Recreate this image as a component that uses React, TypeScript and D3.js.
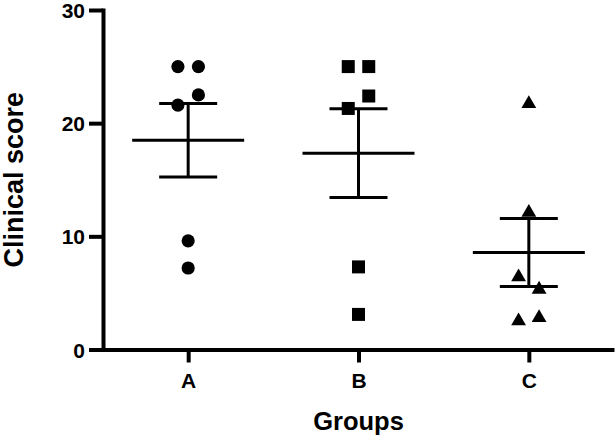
import React, { useEffect, useRef } from "react";
import * as d3 from "d3";

const groups = ["A", "B", "C"];
const valuesA = [25, 25, 21.6, 22.5, 9.6, 7.2];
const valuesB = [25, 25, 21.3, 22.4, 7.3, 3.1];
const valuesC = [21.8, 12.2, 6.5, 5.4, 2.6, 2.9];
const yTicks = [0, 10, 20, 30];
const yTitle = "Clinical score";
const xTitle = "Groups";
const seriesValues = [valuesA, valuesB, valuesC];
const markerShapes = ["circle", "square", "triangle"];

const W = 615;
const H = 439;
const FONT = "'Liberation Sans', Arial, Helvetica, sans-serif";

function stats(v: number[]) {
  const mean = d3.mean(v) as number;
  const sd = d3.deviation(v) as number;
  return { mean, sem: sd / Math.sqrt(v.length) };
}

function swarmOffsets(v: number[], y: (n: number) => number, thresh: number, step: number) {
  const idx = v.map((_, i) => i).sort((a, b) => v[b] - v[a]);
  const clusters: number[][] = [];
  idx.forEach((i) => {
    const last = clusters[clusters.length - 1];
    if (last && Math.abs(y(v[last[last.length - 1]]) - y(v[i])) < thresh) last.push(i);
    else clusters.push([i]);
  });
  const off = new Array(v.length).fill(0);
  clusters.forEach((c) => {
    const ordered = [...c].sort((a, b) => a - b);
    ordered.forEach((i, k) => {
      off[i] = (k - (ordered.length - 1) / 2) * step;
    });
  });
  return off;
}

export default function App() {
  const xAxisRef = useRef<SVGGElement>(null);
  const yAxisRef = useRef<SVGGElement>(null);

  const left = 103;
  const right = 614;
  const top = 10;
  const bottom = 349.5;

  const x = d3.scalePoint<string>().domain(groups).range([left, right]).padding(0.5);
  const y = d3.scaleLinear().domain([0, 30]).range([bottom, top]);

  useEffect(() => {
    if (yAxisRef.current) {
      const g = d3.select(yAxisRef.current);
      g.call(d3.axisLeft(y).tickValues(yTicks).tickSize(14).tickSizeOuter(0).tickPadding(4) as any);
      g.select(".domain").attr("stroke", "#000").attr("stroke-width", 4).attr("stroke-linecap", "square");
      g.selectAll(".tick line").attr("stroke", "#000").attr("stroke-width", 4);
      g.selectAll(".tick text")
        .attr("fill", "#000")
        .attr("dy", "0.36em")
        .style("font-family", FONT)
        .style("font-weight", "bold")
        .style("font-size", "21px");
    }
    if (xAxisRef.current) {
      const g = d3.select(xAxisRef.current);
      g.call(d3.axisBottom(x).tickSize(13).tickSizeOuter(0).tickPadding(11) as any);
      g.select(".domain").attr("stroke", "#000").attr("stroke-width", 4);
      g.selectAll(".tick line").attr("stroke", "#000").attr("stroke-width", 4);
      g.selectAll(".tick text")
        .attr("fill", "#000")
        .style("font-family", FONT)
        .style("font-weight", "bold")
        .style("font-size", "21px");
    }
  });

  const sym = {
    circle: d3.symbol().type(d3.symbolCircle).size(Math.PI * 6.6 * 6.6),
    square: d3.symbol().type(d3.symbolSquare).size(13 * 13),
    triangle: d3.symbol().type(d3.symbolTriangle).size(95),
  } as Record<string, any>;

  return (
    <svg width={W} height={H} style={{ position: "absolute", left: 0, top: 0, background: "#fff" }}>
      <rect width={W} height={H} fill="#fff" />
      <g ref={yAxisRef} transform={`translate(${left},0)`} />
      <g ref={xAxisRef} transform={`translate(0,${bottom})`} />
      {groups.map((gname, gi) => {
        const v = seriesValues[gi];
        const cx = x(gname) as number;
        const { mean, sem } = stats(v);
        const offs = swarmOffsets(v, y, 14, 20.5);
        const shape = markerShapes[gi];
        return (
          <g key={gname}>
            {v.map((val, i) => (
              <path
                key={i}
                d={sym[shape]()}
                transform={`translate(${cx + offs[i]},${y(val) + (shape === "triangle" ? 1 : 0)})`}
                fill="#000"
              />
            ))}
            <line x1={cx - 56} x2={cx + 56} y1={y(mean)} y2={y(mean)} stroke="#000" strokeWidth={3} />
            <line x1={cx} x2={cx} y1={y(mean - sem)} y2={y(mean + sem)} stroke="#000" strokeWidth={3} />
            <line x1={cx - 29} x2={cx + 29} y1={y(mean + sem)} y2={y(mean + sem)} stroke="#000" strokeWidth={3} />
            <line x1={cx - 29} x2={cx + 29} y1={y(mean - sem)} y2={y(mean - sem)} stroke="#000" strokeWidth={3} />
          </g>
        );
      })}
      <text
        x={(left + right) / 2}
        y={430}
        textAnchor="middle"
        style={{ fontFamily: FONT, fontWeight: "bold", fontSize: "25.5px" }}
      >
        {xTitle}
      </text>
      <text
        transform={`translate(23,${(top + bottom) / 2}) rotate(-90)`}
        textAnchor="middle"
        style={{ fontFamily: FONT, fontWeight: "bold", fontSize: "27px" }}
      >
        {yTitle}
      </text>
    </svg>
  );
}
